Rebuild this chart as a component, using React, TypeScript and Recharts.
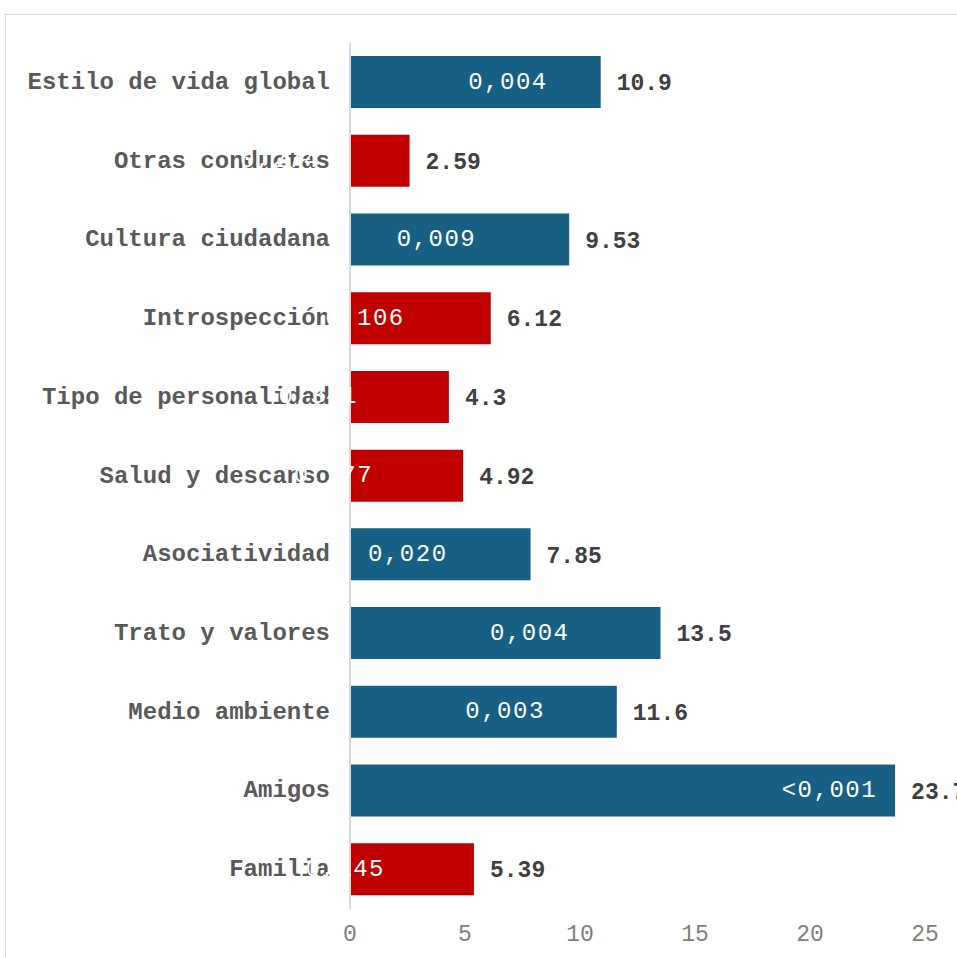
import { BarChart, Bar, XAxis, YAxis, Cell, LabelList } from 'recharts';

const categories = [
  'Estilo de vida global',
  'Otras conductas',
  'Cultura ciudadana',
  'Introspección',
  'Tipo de personalidad',
  'Salud y descanso',
  'Asociatividad',
  'Trato y valores',
  'Medio ambiente',
  'Amigos',
  'Familia',
];
const oddsValues = [10.9, 2.59, 9.53, 6.12, 4.3, 4.92, 7.85, 13.5, 11.6, 23.7, 5.39];
const pValues = ['0,004', '0,274', '0,009', '0,106', '0,341', '0,177', '0,020', '0,004', '0,003', '<0,001', '0,145'];
const significant = [true, false, true, false, false, false, true, true, true, true, false];
const xTicks = [0, 5, 10, 15, 20, 25];

// how far the p-value label sits from the bar end (labels were hand-placed in the original)
const pLabelInset = [53, 90, 93, 86, 91, 90, 83, 91, 72, 18, 89];

const BLUE = '#176083';
const RED = '#C00000';

const data = categories.map((name, i) => ({
  name,
  value: oddsValues[i],
  p: pValues[i],
}));

const PLabel = (props: any) => {
  const { x, y, width, height, value, index } = props;
  const inset = pLabelInset[index] ?? 90;
  return (
    <text
      x={Number(x) + Number(width) - inset}
      y={Number(y) + Number(height) / 2}
      textAnchor="end"
      dominantBaseline="central"
      fill="#ffffff"
      fontSize={24}
      fontFamily="'Liberation Mono', monospace"
      letterSpacing={1.5}
    >
      {value}
    </text>
  );
};

export default function App() {
  return (
    <div style={{ position: 'fixed', left: 0, top: 0, width: 957, height: 958, overflow: 'hidden', background: '#fff' }}>
      <div
        style={{
          position: 'absolute',
          left: 5,
          top: 14,
          width: 1000,
          height: 1000,
          border: '1px solid #d9d9d9',
          fontFamily: "'Liberation Mono', monospace",
        }}
      >
        <BarChart
          width={1000}
          height={1000}
          data={data}
          layout="vertical"
          margin={{ top: 28, right: 81, left: 0, bottom: 76 }}
          barSize={52}
        >
          <XAxis
            type="number"
            domain={[0, 25]}
            ticks={xTicks}
            axisLine={false}
            tickLine={false}
            tickSize={0}
            tickMargin={16}
            height={30}
            tick={{ fill: '#808080', fontSize: 23, fontFamily: "'Liberation Mono', monospace" }}
          />
          <YAxis
            type="category"
            dataKey="name"
            width={344}
            axisLine={{ stroke: '#d9d9d9', strokeWidth: 2 }}
            tickLine={false}
            tickSize={0}
            tickMargin={20}
            tick={{ fill: '#595959', fontSize: 24, fontWeight: 'bold', fontFamily: "'Liberation Mono', monospace", dy: -2 }}
          />
          <Bar dataKey="value" isAnimationActive={false}>
            {data.map((d, i) => (
              <Cell key={d.name} fill={significant[i] ? BLUE : RED} />
            ))}
            <LabelList dataKey="p" content={PLabel} />
            <LabelList
              dataKey="value"
              position="right"
              offset={16}
              fill="#404040"
              fontSize={23}
              fontWeight="bold"
              fontFamily="'Liberation Mono', monospace"
            />
          </Bar>
        </BarChart>
      </div>
    </div>
  );
}
